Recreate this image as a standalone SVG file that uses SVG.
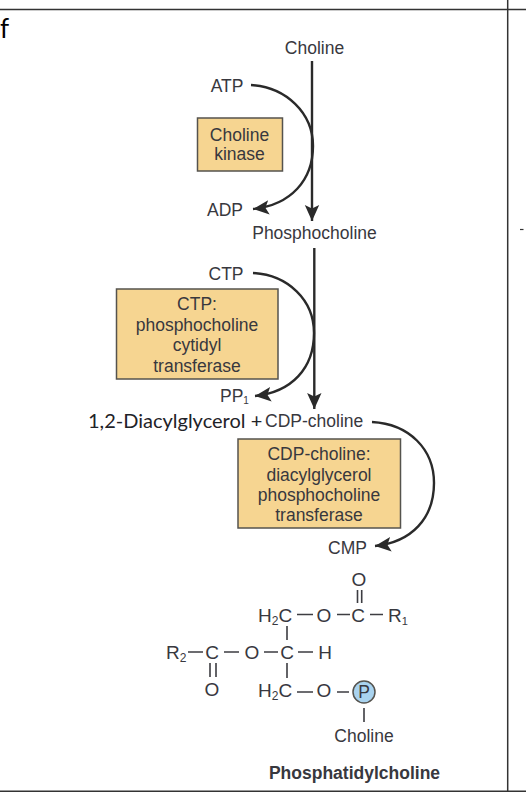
<svg xmlns="http://www.w3.org/2000/svg" width="526" height="806" viewBox="0 0 526 806">
<style>
text{font-family:"Liberation Sans",Arial,sans-serif;font-size:17.5px;fill:#38383e;text-anchor:middle}
.s{text-anchor:start}
.c{font-family:Lato,"Open Sans",sans-serif;font-size:20px;fill:#1f2328;text-anchor:start}
.m{font-size:19px}
.b{font-weight:bold}
.box{fill:#f6d591;stroke:#55534e;stroke-width:1.5}
.ln{fill:none;stroke:#2a2a2a;stroke-width:2.4}
.bond{stroke:#3d3d42;stroke-width:1.6;fill:none}
.frame{stroke:#333;fill:none}
</style>
<defs>
<marker id="ah" markerUnits="userSpaceOnUse" markerWidth="18" markerHeight="16" refX="16" refY="8" orient="auto">
<path d="M0 0.8L16 8L0 15.2L3.5 8Z" fill="#2a2a2a"/>
</marker>
</defs>
<rect width="526" height="806" fill="#fff"/>
<g id="frame">
<path class="frame" stroke-width="1.5" d="M0 9.500H526M507.700 0V791M0 791.200H526"/>
<path class="frame" stroke-width="1.2" d="M520 229.500H523.500"/>
<text class="c s" x="0" y="38" style="font-size:26px;fill:#000">f</text>
</g>
<g id="connectors">
<path class="ln" marker-end="url(#ah)" d="M312 61V221"/>
<path class="ln" marker-end="url(#ah)" d="M251 85C286 87 313 113 313 146C313 180 291 205 253 209"/>
<path class="ln" marker-end="url(#ah)" d="M314.300 248V409"/>
<path class="ln" marker-end="url(#ah)" d="M253 273C288 275 314 300 314 333C314 368 292 392 255 396"/>
<path class="ln" marker-end="url(#ah)" d="M372 422C409 424 434 449 434 483C434 518 412 542 375 546"/>
</g>
<g id="choline"><text x="314.500" y="54">Choline</text></g>
<g id="atp"><text x="227" y="92">ATP</text></g>
<g id="adp"><text x="225" y="216">ADP</text></g>
<g id="choline-kinase"><rect class="box" x="197.500" y="118" width="85" height="53"/><text x="239.500" y="141">Choline</text><text x="239.500" y="160">kinase</text></g>
<g id="phosphocholine"><text x="314.500" y="239">Phosphocholine</text></g>
<g id="ctp"><text x="226" y="280">CTP</text></g>
<g id="ctp-transferase"><rect class="box" x="116.500" y="289" width="161.500" height="90"/><text x="197" y="310">CTP:</text><text x="197" y="331">phosphocholine</text><text x="197" y="351">cytidyl</text><text x="197" y="372">transferase</text></g>
<g id="ppi"><text class="s" x="220" y="402">PP<tspan font-size="10" dy="2">1</tspan></text></g>
<g id="diacylglycerol"><text class="c" x="88" y="428">1,2-Diacylglycerol +</text></g>
<g id="cdp-choline"><text class="s" x="265" y="427">CDP-choline</text></g>
<g id="cdp-transferase"><rect class="box" x="238" y="439" width="162.500" height="89"/><text x="319" y="460">CDP-choline:</text><text x="319" y="481">diacylglycerol</text><text x="319" y="501">phosphocholine</text><text x="319" y="521">transferase</text></g>
<g id="cmp"><text x="347.500" y="554">CMP</text></g>
<g id="phosphatidylcholine">
<path class="bond" d="M357.500 590V603M361.700 590V603M297 614.500H313M337 614.500H350M370 614.500H383M287 626V640M188 652H203M224 652H239M264 652H278M298 652H313M210 663V677M216 663V677M287 663V678M297 692H313M337 692H349M364 708V722"/>
<text class="m" x="359" y="586">O</text>
<text class="s m" x="258" y="622">H<tspan font-size="12" dy="3">2</tspan><tspan dy="-3">C</tspan></text>
<text class="m" x="324" y="622">O</text><text class="m" x="358" y="622">C</text>
<text class="s m" x="388" y="622">R<tspan font-size="11" dy="3">1</tspan></text>
<text class="s m" x="166" y="659">R<tspan font-size="12" dy="3">2</tspan></text>
<text class="m" x="212" y="659">C</text><text class="m" x="252" y="659">O</text><text class="m" x="287" y="659">C</text><text class="m" x="325" y="659">H</text>
<text class="m" x="212" y="696">O</text>
<text class="s m" x="258" y="697">H<tspan font-size="12" dy="3">2</tspan><tspan dy="-3">C</tspan></text>
<text class="m" x="324" y="697">O</text>
<circle cx="364" cy="692" r="11" fill="#a9d3ef" stroke="#55534e" stroke-width="1.5"/>
<text x="364" y="698">P</text>
<text x="364" y="742">Choline</text>
<text class="b" x="354.500" y="779">Phosphatidylcholine</text>
</g>
</svg>
